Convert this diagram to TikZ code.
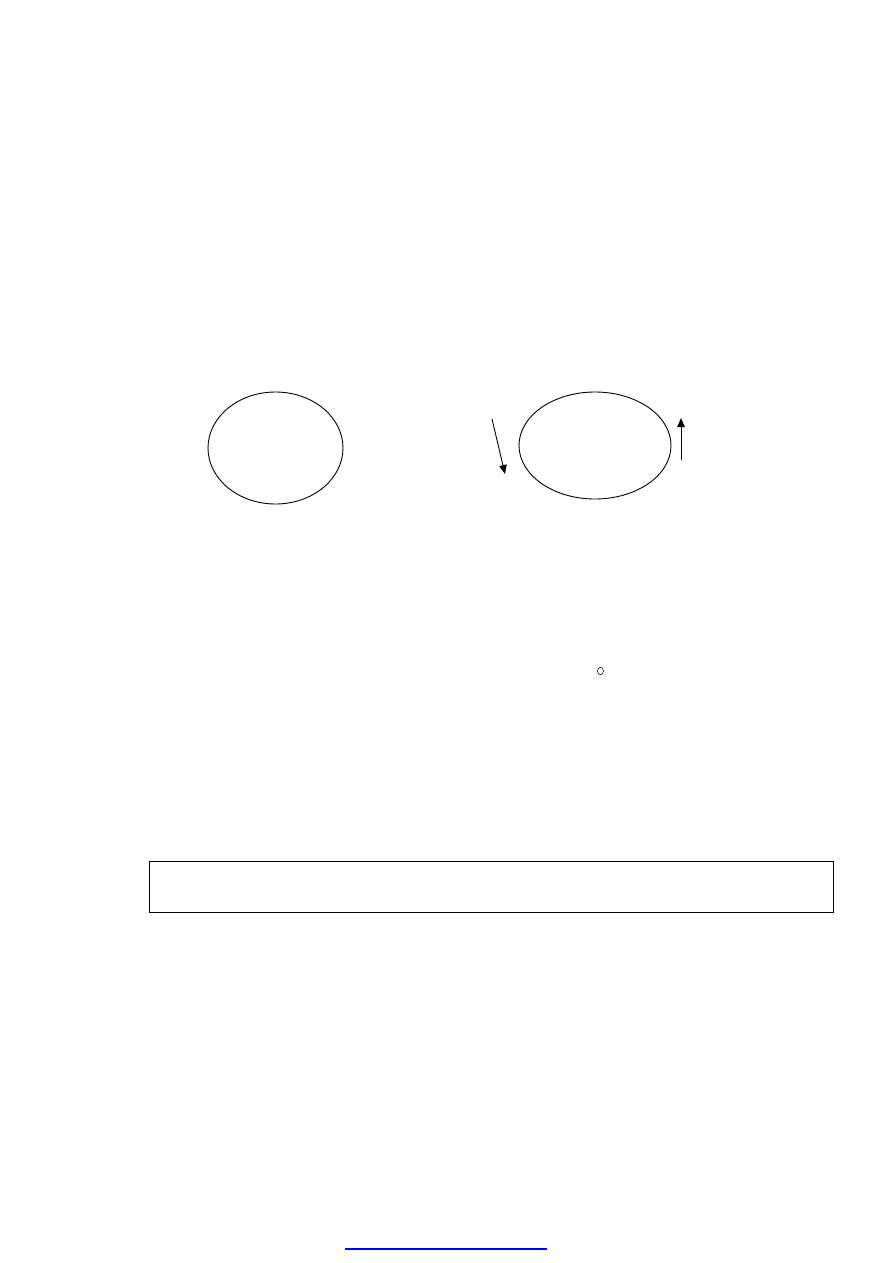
\documentclass[tikz,border=0pt]{standalone}
\usetikzlibrary{shapes.geometric,arrows.meta}
\begin{document}
\begin{tikzpicture}[x=1pt,y=-1pt,
  oval/.style={draw,ellipse,line width=0.9pt,inner sep=0pt},
  arr/.style={line width=0.9pt,-{Triangle[length=9pt,width=7.5pt]}},
  frame/.style={draw,line width=1.4pt}]
\useasboundingbox (0,0) rectangle (893,1263);
\node[oval,minimum width=135pt,minimum height=112pt] (e1) at (275.5,448) {};
\node[oval,minimum width=152pt,minimum height=107pt] (e2) at (595,445.5) {};
\coordinate (a1s) at (492,419);
\coordinate (a1e) at (505,474);
\draw[arr] (a1s) -- (a1e);
\coordinate (a2s) at (681,460);
\coordinate (a2e) at (681,418);
\draw[arr] (a2s) -- (a2e);
\node[draw,ellipse,line width=0.6pt,inner sep=0pt,minimum width=6pt,minimum height=7.5pt] (c) at (600.5,671) {};
\node[frame,minimum width=684pt,minimum height=51pt,inner sep=0pt] (box) at (491.5,887) {};
\coordinate (l1) at (345,1249);
\coordinate (l2) at (547,1249);
\draw[blue,line width=1.1pt] (l1) -- (l2);
\end{tikzpicture}
\end{document}
